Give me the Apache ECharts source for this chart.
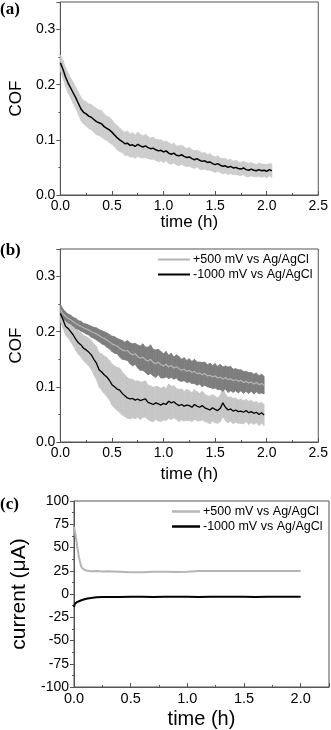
<!DOCTYPE html>
<html>
<head>
<meta charset="utf-8">
<script src="https://cdn.jsdelivr.net/npm/echarts@6/dist/echarts.min.js"></script>
<style>
html,body{margin:0;padding:0;background:#fff;}
#chart{width:331px;height:730px;}
</style>
</head>
<body>
<div id="chart"></div>
<script>
// ---------- Panel (a) ----------
const timeA = [0,0.025,0.05,0.075,0.1,0.125,0.15,0.175,0.2,0.225,0.25,0.275,0.3,0.325,0.35,0.375,0.4,0.425,0.45,0.475,0.5,0.525,0.55,0.575,0.6,0.625,0.65,0.675,0.7,0.725,0.75,0.775,0.8,0.825,0.85,0.875,0.9,0.925,0.95,0.975,1.0,1.025,1.05,1.075,1.1,1.125,1.15,1.175,1.2,1.225,1.25,1.275,1.3,1.325,1.35,1.375,1.4,1.425,1.45,1.475,1.5,1.525,1.55,1.575,1.6,1.625,1.65,1.675,1.7,1.725,1.75,1.775,1.8,1.825,1.85,1.875,1.9,1.925,1.95,1.975,2.0,2.025,2.05];
const cofA = [0.240,0.228,0.214,0.203,0.194,0.185,0.176,0.166,0.156,0.150,0.147,0.143,0.141,0.137,0.133,0.131,0.129,0.124,0.121,0.118,0.114,0.109,0.104,0.100,0.097,0.093,0.094,0.090,0.091,0.088,0.092,0.089,0.087,0.089,0.086,0.084,0.085,0.082,0.080,0.081,0.078,0.080,0.076,0.074,0.076,0.072,0.071,0.073,0.070,0.068,0.069,0.066,0.064,0.066,0.063,0.061,0.062,0.059,0.060,0.057,0.055,0.057,0.054,0.052,0.053,0.050,0.052,0.049,0.050,0.048,0.047,0.049,0.046,0.045,0.047,0.045,0.044,0.046,0.044,0.045,0.043,0.046,0.044];
const errA = [0.014,0.016,0.017,0.018,0.018,0.019,0.019,0.020,0.021,0.021,0.022,0.022,0.023,0.023,0.024,0.023,0.024,0.023,0.022,0.023,0.022,0.021,0.022,0.021,0.020,0.021,0.022,0.021,0.022,0.021,0.022,0.021,0.020,0.021,0.020,0.019,0.020,0.019,0.020,0.019,0.019,0.018,0.019,0.018,0.018,0.017,0.018,0.017,0.017,0.016,0.017,0.016,0.016,0.015,0.016,0.015,0.015,0.014,0.015,0.014,0.014,0.014,0.013,0.014,0.013,0.013,0.013,0.012,0.013,0.012,0.012,0.012,0.013,0.012,0.012,0.012,0.011,0.012,0.012,0.011,0.012,0.011,0.012];

// ---------- Panel (b) ----------
const timeB = [0,0.025,0.05,0.075,0.1,0.125,0.15,0.175,0.2,0.225,0.25,0.275,0.3,0.325,0.35,0.375,0.4,0.425,0.45,0.475,0.5,0.525,0.55,0.575,0.6,0.625,0.65,0.675,0.7,0.725,0.75,0.775,0.8,0.825,0.85,0.875,0.9,0.925,0.95,0.975,1.0,1.025,1.05,1.075,1.1,1.125,1.15,1.175,1.2,1.225,1.25,1.275,1.3,1.325,1.35,1.375,1.4,1.425,1.45,1.475,1.5,1.525,1.55,1.575,1.6,1.625,1.65,1.675,1.7,1.725,1.75,1.775,1.8,1.825,1.85,1.875,1.9,1.925,1.95,1.975];
const cofPos = [0.240,0.232,0.228,0.224,0.222,0.218,0.215,0.212,0.210,0.207,0.205,0.203,0.200,0.198,0.196,0.193,0.190,0.188,0.185,0.182,0.178,0.176,0.174,0.170,0.167,0.165,0.166,0.161,0.158,0.160,0.155,0.152,0.154,0.149,0.147,0.150,0.144,0.142,0.145,0.140,0.138,0.141,0.136,0.139,0.134,0.137,0.133,0.130,0.132,0.128,0.130,0.126,0.128,0.124,0.125,0.122,0.124,0.120,0.121,0.118,0.120,0.116,0.118,0.114,0.117,0.113,0.115,0.111,0.113,0.110,0.112,0.108,0.110,0.107,0.109,0.105,0.108,0.104,0.106,0.103];
const errPos = [0.010,0.009,0.008,0.008,0.008,0.008,0.009,0.008,0.009,0.008,0.009,0.009,0.010,0.010,0.011,0.011,0.012,0.012,0.013,0.013,0.014,0.015,0.014,0.016,0.017,0.016,0.018,0.019,0.020,0.019,0.021,0.022,0.024,0.023,0.025,0.026,0.024,0.025,0.023,0.024,0.022,0.023,0.021,0.022,0.020,0.021,0.022,0.020,0.021,0.020,0.021,0.020,0.022,0.021,0.020,0.022,0.021,0.020,0.022,0.021,0.022,0.021,0.023,0.022,0.021,0.023,0.022,0.021,0.020,0.021,0.019,0.020,0.018,0.019,0.017,0.018,0.017,0.016,0.017,0.016];
const cofNeg = [0.233,0.222,0.210,0.206,0.200,0.194,0.186,0.180,0.176,0.170,0.167,0.163,0.158,0.150,0.143,0.131,0.127,0.122,0.118,0.112,0.104,0.100,0.096,0.094,0.088,0.084,0.080,0.078,0.079,0.076,0.078,0.075,0.077,0.078,0.072,0.070,0.068,0.071,0.069,0.067,0.070,0.068,0.074,0.071,0.073,0.069,0.066,0.068,0.065,0.067,0.066,0.063,0.068,0.065,0.063,0.066,0.062,0.060,0.058,0.062,0.059,0.057,0.061,0.071,0.063,0.058,0.060,0.056,0.058,0.055,0.056,0.054,0.057,0.053,0.055,0.052,0.054,0.050,0.053,0.049];
const errNeg = [0.014,0.015,0.016,0.017,0.018,0.019,0.020,0.021,0.022,0.023,0.024,0.025,0.026,0.028,0.030,0.031,0.033,0.034,0.035,0.036,0.037,0.038,0.039,0.040,0.039,0.038,0.037,0.036,0.035,0.034,0.033,0.034,0.032,0.033,0.031,0.032,0.031,0.030,0.031,0.030,0.030,0.029,0.031,0.030,0.029,0.028,0.029,0.028,0.027,0.028,0.027,0.026,0.027,0.026,0.025,0.026,0.025,0.024,0.025,0.024,0.024,0.023,0.024,0.025,0.024,0.023,0.022,0.023,0.022,0.021,0.022,0.021,0.020,0.021,0.020,0.020,0.019,0.020,0.019,0.019];

// ---------- Panel (c) ----------
const timeC = [0,0.01,0.02,0.03,0.04,0.05,0.06,0.07,0.08,0.1,0.12,0.15,0.2,0.25,0.3,0.4,0.5,0.6,0.7,0.8,0.9,1.0,1.1,1.2,1.3,1.4,1.5,1.6,1.7,1.8,1.9,2.0];
const curPos = [72,66,58,50,42,36,31,28,26.5,25.5,25,24.5,24.8,24.3,24.5,24,23.5,23.5,23.8,23.8,23.6,23.8,24.6,24.8,24.7,24.8,24.8,24.7,24.8,24.8,24.7,24.8];
const curNeg = [-14,-10,-9,-8.5,-8,-7.5,-7,-6.5,-6,-5.3,-4.8,-4.2,-3.6,-3.3,-3.2,-3.1,-3.0,-3.0,-3.1,-3.0,-3.0,-3.0,-3.1,-3.0,-3.0,-3.0,-3.0,-3.1,-3.0,-3.0,-3.0,-3.0];

const posName = '+500 mV vs Ag/AgCl';
const negName = '-1000 mV vs Ag/AgCl';

const FONT = 'Liberation Sans, Arial, sans-serif';
const AX = '#555';

function pairs(t, v) { return t.map((x, i) => [x, v[i]]); }

// Error band: one quadrilateral per interval between consecutive samples,
// each item = [t_i, lo_i, hi_i, t_i+1, lo_i+1, hi_i+1]
function bandData(t, v, e) {
  const out = [];
  for (let i = 0; i < t.length - 1; i++) {
    out.push([t[i], v[i] - e[i], v[i] + e[i], t[i + 1], v[i + 1] - e[i + 1], v[i + 1] + e[i + 1]]);
  }
  return out;
}
function bandSeries(idx, name, t, v, e, color, z) {
  return {
    type: 'custom', name: name, xAxisIndex: idx, yAxisIndex: idx, silent: true, z: z,
    data: bandData(t, v, e),
    encode: { x: [0, 3], y: [1, 2, 4, 5] },
    renderItem: function (params, api) {
      const p1 = api.coord([api.value(0), api.value(1)]);
      const p2 = api.coord([api.value(0), api.value(2)]);
      const p3 = api.coord([api.value(3), api.value(5)]);
      const p4 = api.coord([api.value(3), api.value(4)]);
      return {
        type: 'polygon',
        shape: { points: [p1, p2, p3, p4] },
        style: { fill: color, stroke: color, lineWidth: 0.8 }
      };
    }
  };
}

function xAxis(idx, max, fs, nameGap, nfs) {
  return {
    type: 'value', gridIndex: idx, min: 0, max: max, interval: 0.5,
    name: 'time (h)', nameLocation: 'middle', nameGap: nameGap,
    nameTextStyle: { fontFamily: FONT, fontSize: nfs, color: '#000' },
    axisLine: { show: true, onZero: false, lineStyle: { color: AX, width: 1 } },
    axisTick: { show: true, inside: true, length: 4, lineStyle: { color: AX } },
    minorTick: { show: true, splitNumber: 2, length: 2, lineStyle: { color: AX } },
    axisLabel: { fontFamily: FONT, fontSize: fs, color: '#000', margin: 4,
      showMaxLabel: max === 2.5, formatter: v => v.toFixed(1) },
    splitLine: { show: false }
  };
}

function yAxisCOF(idx, fs, nameGap, nfs) {
  return {
    type: 'value', gridIndex: idx, min: 0, max: 0.35, interval: 0.1,
    name: 'COF', nameLocation: 'middle', nameGap: nameGap,
    nameTextStyle: { fontFamily: FONT, fontSize: nfs, color: '#000' },
    axisLine: { show: true, onZero: false, lineStyle: { color: AX, width: 1 } },
    axisTick: { show: true, inside: false, length: 4, lineStyle: { color: AX } },
    minorTick: { show: true, splitNumber: 2, length: 2, lineStyle: { color: AX } },
    axisLabel: { fontFamily: FONT, fontSize: fs, color: '#000', margin: 5,
      showMaxLabel: false, formatter: v => v.toFixed(1) },
    splitLine: { show: false }
  };
}

const chart = echarts.init(document.getElementById('chart'), null, { renderer: 'canvas' });

const serif = 'Liberation Serif, Times New Roman, serif';
const option = {
  animation: false,
  backgroundColor: '#fff',
  title: [
    { text: '(a)', left: 0, top: 1, padding: 0, textStyle: { fontFamily: serif, fontWeight: 'bold', fontSize: 17, color: '#000' } },
    { text: '(b)', left: 0, top: 242, padding: 0, textStyle: { fontFamily: serif, fontWeight: 'bold', fontSize: 17, color: '#000' } },
    { text: '(c)', left: 0, top: 496, padding: 0, textStyle: { fontFamily: serif, fontWeight: 'bold', fontSize: 17, color: '#000' } }
  ],
  legend: [
    { orient: 'vertical', left: 158, top: 253, padding: 0, itemGap: 2, itemWidth: 32, itemHeight: 2,
      icon: 'rect', data: [posName, negName],
      textStyle: { fontFamily: FONT, fontSize: 12.5, color: '#000', padding: [0, 0, 0, -2] } },
    { orient: 'vertical', left: 172, top: 505, padding: 0, itemGap: 2, itemWidth: 28, itemHeight: 2.5,
      icon: 'rect', data: [posName, negName],
      textStyle: { fontFamily: FONT, fontSize: 12.5, color: '#000', padding: [0, 0, 0, -2] } }
  ],
  grid: [
    { left: 56, top: 2, width: 263, height: 193, show: true, borderColor: AX, borderWidth: 1, backgroundColor: 'transparent' },
    { left: 56, top: 249, width: 264, height: 193, show: true, borderColor: AX, borderWidth: 1, backgroundColor: 'transparent' },
    { left: 74, top: 501, width: 255, height: 188, show: true, borderColor: AX, borderWidth: 1, backgroundColor: 'transparent' }
  ],
  xAxis: [
    xAxis(0, 2.5, 14, 18, 17),
    xAxis(1, 2.5, 14, 24, 17),
    xAxis(2, 2.25, 14.5, 22, 20)
  ],
  yAxis: [
    yAxisCOF(0, 14, 34, 17),
    yAxisCOF(1, 14, 34, 17),
    {
      type: 'value', gridIndex: 2, min: -100, max: 100, interval: 25,
      name: 'current (μA)', nameLocation: 'middle', nameGap: 36,
      nameTextStyle: { fontFamily: FONT, fontSize: 21, color: '#000' },
      axisLine: { show: true, onZero: false, lineStyle: { color: AX, width: 1 } },
      axisTick: { show: true, inside: false, length: 4, lineStyle: { color: AX } },
      minorTick: { show: true, splitNumber: 2, length: 2, lineStyle: { color: AX } },
      axisLabel: { fontFamily: FONT, fontSize: 14, color: '#000', margin: 5 },
      splitLine: { show: false }
    }
  ],
  series: [
    // (a)
    bandSeries(0, 'bandA', timeA, cofA, errA, '#cdcdcd', 1),
    { type: 'line', name: 'COF (a)', xAxisIndex: 0, yAxisIndex: 0, data: pairs(timeA, cofA),
      symbol: 'none', color: '#000', lineStyle: { color: '#000', width: 1.5 }, z: 3 },
    // (b)
    bandSeries(1, 'bandNeg', timeB, cofNeg, errNeg, '#c6c6c6', 1),
    bandSeries(1, 'bandPos', timeB, cofPos, errPos, '#7d7d7d', 2),
    { type: 'line', name: posName, xAxisIndex: 1, yAxisIndex: 1, data: pairs(timeB, cofPos),
      symbol: 'none', color: '#b5b5b5', lineStyle: { color: '#b5b5b5', width: 1.2 }, z: 3 },
    { type: 'line', name: negName, xAxisIndex: 1, yAxisIndex: 1, data: pairs(timeB, cofNeg),
      symbol: 'none', color: '#000', lineStyle: { color: '#000', width: 1.3 }, z: 4 },
    // (c)
    { type: 'line', name: posName, xAxisIndex: 2, yAxisIndex: 2, data: pairs(timeC, curPos),
      symbol: 'none', color: '#b5b5b5', lineStyle: { color: '#b5b5b5', width: 2 }, z: 3 },
    { type: 'line', name: negName, xAxisIndex: 2, yAxisIndex: 2, data: pairs(timeC, curNeg),
      symbol: 'none', color: '#000', lineStyle: { color: '#000', width: 2 }, z: 4 }
  ]
};
chart.setOption(option);
</script>
</body>
</html>
